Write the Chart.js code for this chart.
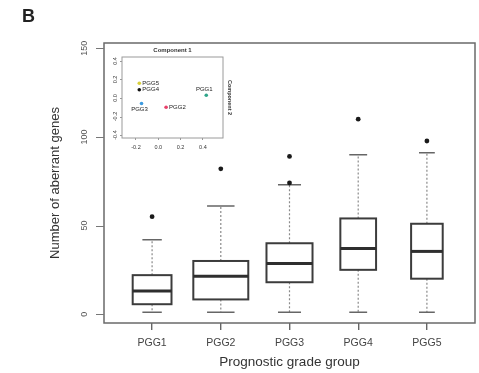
<!DOCTYPE html>
<html><head><meta charset="utf-8">
<script src="https://cdn.jsdelivr.net/npm/chart.js@4/dist/chart.umd.min.js"></script>
<style>
html,body{margin:0;padding:0;background:#fff;}
#wrap{position:relative;width:479px;height:373px;overflow:hidden;}
#main{position:absolute;left:0;top:0;}
#inset{position:absolute;left:104px;top:43px;}
#panel{position:absolute;left:22px;top:6px;font:bold 18px "Liberation Sans",Arial,sans-serif;color:#222;}
</style></head><body>
<div id="wrap">
<canvas id="main" width="479" height="373"></canvas>
<canvas id="inset" width="130" height="110"></canvas>
<div id="panel">B</div>
</div>
<script>
// ---- data ----
const categories = ['PGG1','PGG2','PGG3','PGG4','PGG5'];
const whiskerLow = [1, 1, 1, 1, 1];
const q1 = [5.6, 8.3, 18, 25, 20];
const medians = [13, 21.4, 28.6, 37, 35.4];
const q3 = [22, 30, 40, 54, 51];
const whiskerHigh = [42, 61, 73, 90, 91];
const outliers = [[55], [82], [74, 89], [110], [97.7]];
const relWidths = [0.565, 0.80, 0.67, 0.52, 0.46]; // varwidth boxes (sqrt n)
const yTicks = [0, 50, 100, 150];
// inset PCA
const pc1 = [0.43, 0.07, -0.15, -0.17, -0.17];
const pc2 = [0.03, -0.10, -0.06, 0.09, 0.16];
const pcTicksX = [-0.2, 0, 0.2, 0.4];
const pcTicksY = [-0.4, -0.2, 0, 0.2, 0.4];

const FONT = '"Liberation Sans", Arial, sans-serif';

const outlierPts = [];
outliers.forEach((arr, i) => arr.forEach(v => outlierPts.push({x: i + 1, y: v})));

const framePlugin = {
  id: 'frame',
  afterDraw(chart, args, opts) {
    const a = chart.chartArea, c = chart.ctx;
    c.save();
    c.strokeStyle = opts.color || '#666';
    c.lineWidth = opts.width || 1.5;
    c.strokeRect(a.left, a.top, a.right - a.left, a.bottom - a.top);
    c.restore();
  }
};

const yLabelPlugin = {
  id: 'yLabels',
  afterDraw(chart, args, opts) {
    const ys = chart.scales.y, c = chart.ctx, a = chart.chartArea;
    c.save();
    c.strokeStyle = opts.tickColor;
    c.lineWidth = opts.tickWidth;
    c.beginPath();
    opts.ticks.forEach(v => {
      const y = Math.round(ys.getPixelForValue(v)) + 0.5;
      c.moveTo(a.left, y); c.lineTo(a.left - opts.tickLen, y);
    });
    c.stroke();
    c.fillStyle = opts.color;
    c.font = opts.font;
    c.textAlign = 'center';
    c.textBaseline = 'middle';
    opts.ticks.forEach(v => {
      const y = ys.getPixelForValue(v);
      c.save();
      c.translate(opts.x, y);
      c.rotate(-Math.PI / 2);
      c.fillText(opts.format(v), 0, 0);
      c.restore();
    });
    c.restore();
  }
};

const boxPlugin = {
  id: 'boxes',
  beforeDatasetsDraw(chart) {
    const xs = chart.scales.x, ys = chart.scales.y, c = chart.ctx;
    c.save();
    categories.forEach((cat, i) => {
      const cx = xs.getPixelForValue(i + 1);
      const hw = (xs.getPixelForValue(i + 1 + relWidths[i] / 2) - cx);
      const capHw = hw / 2;
      const yLo = ys.getPixelForValue(whiskerLow[i]);
      const yQ1 = ys.getPixelForValue(q1[i]);
      const yMed = ys.getPixelForValue(medians[i]);
      const yQ3 = ys.getPixelForValue(q3[i]);
      const yHi = ys.getPixelForValue(whiskerHigh[i]);
      // whiskers (dashed)
      c.strokeStyle = '#8a8a8a';
      c.lineWidth = 1.2;
      c.setLineDash([2, 2]);
      c.beginPath();
      c.moveTo(cx, yQ3); c.lineTo(cx, yHi);
      c.moveTo(cx, yQ1); c.lineTo(cx, yLo);
      c.stroke();
      c.setLineDash([]);
      // caps
      c.strokeStyle = '#666';
      c.lineWidth = 1.5;
      c.beginPath();
      c.moveTo(cx - capHw, yHi); c.lineTo(cx + capHw, yHi);
      c.moveTo(cx - capHw, yLo); c.lineTo(cx + capHw, yLo);
      c.stroke();
      // box
      c.fillStyle = '#fff';
      c.fillRect(cx - hw, yQ3, 2 * hw, yQ1 - yQ3);
      c.strokeStyle = '#3c3c3c';
      c.lineWidth = 2;
      c.strokeRect(cx - hw, yQ3, 2 * hw, yQ1 - yQ3);
      // median
      c.strokeStyle = '#2e2e2e';
      c.lineWidth = 3;
      c.beginPath();
      c.moveTo(cx - hw, yMed); c.lineTo(cx + hw, yMed);
      c.stroke();
    });
    c.restore();
  }
};

new Chart(document.getElementById('main'), {
  type: 'scatter',
  data: {
    datasets: [{
      data: outlierPts,
      pointRadius: 2.4,
      pointBackgroundColor: '#1a1a1a',
      pointBorderWidth: 0
    }]
  },
  options: {
    responsive: false,
    animation: false,
    devicePixelRatio: 1,
    layout: {padding: {top: 43, right: 4, left: 0, bottom: 0}},
    plugins: {
      legend: {display: false},
      tooltip: {enabled: false},
      frame: {color: '#6a6a6a', width: 1.5},
      yLabels: {ticks: yTicks, x: 85, color: '#555', font: '9px ' + FONT, format: v => String(v),
                tickLen: 8, tickColor: '#777', tickWidth: 1.2}
    },
    scales: {
      x: {
        type: 'linear', min: 0.3, max: 5.7,
        afterBuildTicks: s => { s.ticks = categories.map((c, i) => ({value: i + 1})); },
        afterFit: s => { s.height = 50; },
        ticks: {callback: v => categories[v - 1], color: '#444', font: {family: FONT, size: 10.5}, padding: 7, maxRotation: 0},
        grid: {drawOnChartArea: false, drawTicks: true, tickLength: 7, color: '#666', lineWidth: 1.4},
        border: {display: false},
        title: {display: true, text: 'Prognostic grade group', color: '#333', font: {family: FONT, size: 13.5, lineHeight: 1.2}, padding: {top: 0, bottom: 2.4}}
      },
      y: {
        type: 'linear', min: -5, max: 153,
        afterBuildTicks: s => { s.ticks = yTicks.map(v => ({value: v})); },
        afterFit: s => { s.width = 104; },
        ticks: {display: false},
        grid: {display: false},
        border: {display: false},
        title: {display: true, text: 'Number of aberrant genes', color: '#333', font: {family: FONT, size: 13, lineHeight: 1.2}, padding: {top: 47.2, bottom: 0}}
      }
    }
  },
  plugins: [boxPlugin, framePlugin, yLabelPlugin]
});

// ---- inset PCA plot ----
const pcColors = ['#2fa58a', '#e8406a', '#3d9be0', '#111111', '#d8cf3a'];
const labelSide = ['above', 'right', 'below', 'right', 'right'];

const insetTextPlugin = {
  id: 'insetText',
  afterDraw(chart) {
    const c = chart.ctx, a = chart.chartArea;
    const xs = chart.scales.x, ys = chart.scales.y;
    c.save();
    c.fillStyle = '#333';
    c.font = 'bold 6px ' + FONT;
    c.textAlign = 'center';
    c.textBaseline = 'middle';
    c.fillText('Component 1', (a.left + a.right) / 2, 7);
    c.font = '6px ' + FONT;
    c.fillStyle = '#222';
    categories.forEach((cat, i) => {
      const px = xs.getPixelForValue(pc1[i]);
      const py = ys.getPixelForValue(pc2[i]);
      const side = labelSide[i];
      if (side === 'right') { c.textAlign = 'left'; c.fillText(cat, px + 3, py); }
      else if (side === 'above') { c.textAlign = 'center'; c.fillText(cat, px - 2, py - 6); }
      else { c.textAlign = 'center'; c.fillText(cat, px - 2, py + 6); }
    });
    c.restore();
  }
};

new Chart(document.getElementById('inset'), {
  type: 'scatter',
  data: {
    datasets: [{
      data: pc1.map((v, i) => ({x: v, y: pc2[i]})),
      pointRadius: 1.8,
      pointBackgroundColor: pcColors,
      pointBorderWidth: 0
    }]
  },
  options: {
    responsive: false,
    animation: false,
    devicePixelRatio: 1,
    layout: {padding: {top: 14, right: 0, left: 0, bottom: 0}},
    plugins: {
      legend: {display: false},
      tooltip: {enabled: false},
      frame: {color: '#9a9a9a', width: 1},
      yLabels: {ticks: pcTicksY, x: 11, color: '#333', font: '5.5px ' + FONT, format: v => v.toFixed(1),
                tickLen: 2, tickColor: '#999', tickWidth: 1}
    },
    scales: {
      x: {
        type: 'linear', min: -0.325, max: 0.58,
        afterBuildTicks: s => { s.ticks = pcTicksX.map(v => ({value: v})); },
        afterFit: s => { s.height = 15; },
        ticks: {callback: v => v.toFixed(1), color: '#333', font: {family: FONT, size: 5.5}, padding: 4, maxRotation: 0},
        grid: {drawOnChartArea: false, tickLength: 2, color: '#999'},
        border: {display: false}
      },
      y: {
        type: 'linear', min: -0.432, max: 0.443,
        afterBuildTicks: s => { s.ticks = pcTicksY.map(v => ({value: v})); },
        afterFit: s => { s.width = 18; },
        ticks: {display: false},
        grid: {display: false},
        border: {display: false}
      },
      y2: {
        type: 'linear', position: 'right', min: 0, max: 1,
        afterFit: s => { s.width = 11; },
        ticks: {display: false},
        grid: {display: false},
        border: {display: false},
        title: {display: true, text: 'Component 2', color: '#333', font: {family: FONT, size: 5.5, weight: 'bold', lineHeight: 1.2}, padding: {top: 0.8, bottom: 0}}
      }
    }
  },
  plugins: [framePlugin, yLabelPlugin, insetTextPlugin]
});
</script>
</body></html>
